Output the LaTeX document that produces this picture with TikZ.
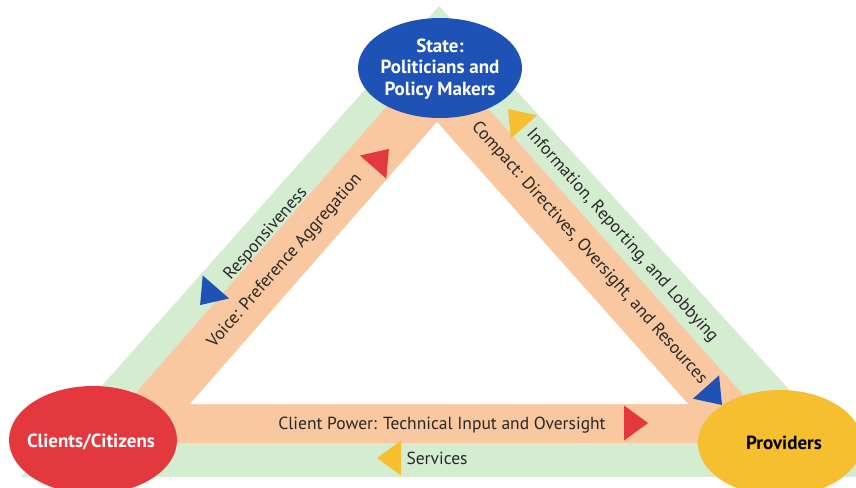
\documentclass[tikz,border=0pt]{standalone}
\usepackage{fontspec}
\setmainfont{PT Sans}
\usetikzlibrary{shapes.geometric}
\definecolor{bandgreen}{RGB}{212,237,209}
\definecolor{bandorange}{RGB}{249,199,160}
\definecolor{stateblue}{RGB}{31,82,182}
\definecolor{clientred}{RGB}{226,56,62}
\definecolor{provyellow}{RGB}{246,191,48}
\definecolor{txtgray}{RGB}{40,40,40}
\tikzset{
  lbl/.style={text=txtgray, font=\fontsize{17.5}{20}\selectfont, inner sep=0pt},
  actor/.style={ellipse, draw=none, inner sep=0pt},
  actortxt/.style={font=\bfseries\fontsize{19}{21.5}\selectfont, align=center, inner sep=0pt},
  arrowtri/.pic={\path[pic actions] (12,0) -- (-12,-17.5) -- (-12,17.5) -- cycle;}
}
\begin{document}
\begin{tikzpicture}[x=1pt,y=-1pt]
\useasboundingbox (0,0) rectangle (856,487);
\clip (0,0) rectangle (856,487);
\fill[white] (0,0) rectangle (856,487);
% bands
\fill[bandgreen] (439,6) -- (21,477) -- (869,477) -- cycle;
\fill[bandorange] (436,50) -- (92,443) -- (786,443) -- cycle;
\fill[white] (437,122) -- (190,404) -- (688,404) -- cycle;
% actors
\node[actor, fill=stateblue, minimum width=164pt, minimum height=100pt] (state) at (440,68) {};
\node[actor, fill=clientred, minimum width=168pt, minimum height=108pt] (clients) at (93,440) {};
\node[actor, fill=provyellow, minimum width=164pt, minimum height=106pt] (providers) at (780,443) {};
\node[actortxt, text=white] (statetxt) at ([yshift=-1pt]state.center) {State:\\Politicians and\\Policy Makers};
\node[actortxt, text=white] (clientstxt) at ([xshift=-2pt,yshift=-2pt]clients.center) {Clients/Citizens};
\node[actortxt, text=black] (providerstxt) at ([xshift=4pt]providers.center) {Providers};
% arrowheads
\pic[fill=clientred] (tcp) at (636,423) {arrowtri};
\pic[fill=provyellow, rotate=180] (tserv) at (389,458) {arrowtri};
\pic[fill=clientred, rotate=48.8] (tvoice) at (381,158) {arrowtri};
\pic[fill=stateblue, rotate=228.8] (tresp) at (208,296) {arrowtri};
\pic[fill=provyellow, rotate=131.7] (tinfo) at (516,118) {arrowtri};
\pic[fill=stateblue, rotate=-48.3] (tcompact) at (714,396) {arrowtri};
% labels
\node[lbl, rotate=48.8] (resp) at (266,234) {Responsiveness};
\node[lbl, rotate=48.8] (voice) at (285,261) {Voice: Preference Aggregation};
\node[lbl, rotate=-48.3] (compact) at (589,253) {Compact: Directives, Oversight, and Resources};
\node[lbl, rotate=-48.3] (info) at (622,236) {Information, Reporting, and Lobbying};
\node[lbl] (cp) at (442,425) {Client Power: Technical Input and Oversight};
\node[lbl] (serv) at (437,458) {Services};
\end{tikzpicture}
\end{document}
